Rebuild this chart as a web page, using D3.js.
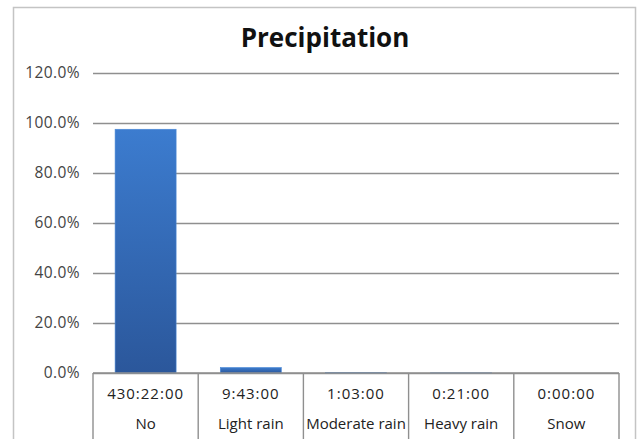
<!DOCTYPE html>
<html>
<head>
<meta charset="utf-8">
<script src="https://cdn.jsdelivr.net/npm/d3@7"></script>
<style>
  html, body { margin: 0; padding: 0; background: #fff; }
  svg { display: block; }
</style>
</head>
<body>
<svg id="chart" width="640" height="439"></svg>
<script>
// Share of time under each precipitation condition
const categories = ["No", "Light rain", "Moderate rain", "Heavy rain", "Snow"];
const durations = ["430:22:00", "9:43:00", "1:03:00", "0:21:00", "0:00:00"];
const shares = [0.975, 0.022, 0.0024, 0.0008, 0.0];
const yTicks = [0, 0.2, 0.4, 0.6, 0.8, 1.0, 1.2];

const svg = d3.select("#chart");
const W = 640, H = 439;
const plot = { left: 93, right: 619, top: 73, bottom: 373 };
const FONT = "'Open Sans', Lato, sans-serif";

// outer chart frame
svg.append("rect")
  .attr("x", 13.5).attr("y", 7.5)
  .attr("width", 622).attr("height", 445)
  .attr("fill", "#fff").attr("stroke", "#c4c4c4").attr("stroke-width", 1.5);

// title
svg.append("text")
  .attr("x", 325).attr("y", 47)
  .attr("text-anchor", "middle")
  .attr("font-family", FONT)
  .attr("font-weight", "bold")
  .attr("font-size", 26)
  .attr("fill", "#111")
  .text("Precipitation");

const x = d3.scaleBand()
  .domain(categories)
  .range([plot.left, plot.right])
  .paddingInner(0.42)
  .paddingOuter(0.21);

const y = d3.scaleLinear()
  .domain([0, 1.2])
  .range([plot.bottom, plot.top]);

// gridlines + percentage labels
const yAxis = d3.axisLeft(y)
  .tickValues(yTicks)
  .tickFormat(d3.format(".1%"))
  .tickSize(-(plot.right - plot.left))
  .tickPadding(13);

const gy = svg.append("g")
  .attr("transform", `translate(${plot.left},0)`)
  .call(yAxis);
gy.select(".domain").remove();
gy.selectAll(".tick line")
  .attr("stroke", "#8f8f8f").attr("stroke-width", 1.6);
gy.selectAll(".tick text")
  .attr("font-family", FONT)
  .attr("font-size", 15.5)
  .attr("letter-spacing", 0.4)
  .attr("fill", "#444");

// bar gradient
const defs = svg.append("defs");
const grad = defs.append("linearGradient")
  .attr("id", "barFill").attr("x1", 0).attr("y1", 0).attr("x2", 0).attr("y2", 1);
grad.append("stop").attr("offset", "0%").attr("stop-color", "#3c7ccf");
grad.append("stop").attr("offset", "100%").attr("stop-color", "#2b579b");

svg.append("g").selectAll("rect")
  .data(categories.map((c, i) => ({ c, v: shares[i] })))
  .join("rect")
  .attr("x", d => x(d.c))
  .attr("y", d => y(d.v))
  .attr("width", x.bandwidth())
  .attr("height", d => y(0) - y(d.v))
  .attr("fill", "url(#barFill)")
  .attr("stroke", "#4a88d6")
  .attr("stroke-width", 0.6);

// data table under the axis
const table = svg.append("g");
const step = x.step();
const cellLeft = c => x(c) - (step - x.bandwidth()) / 2;

table.append("line")
  .attr("x1", plot.left).attr("x2", plot.right)
  .attr("y1", plot.bottom).attr("y2", plot.bottom)
  .attr("stroke", "#8f8f8f").attr("stroke-width", 1.6);

const edges = categories.map(cellLeft).concat([plot.right]);
table.selectAll("line.v")
  .data(edges)
  .join("line")
  .attr("class", "v")
  .attr("x1", d => d).attr("x2", d => d)
  .attr("y1", plot.bottom).attr("y2", H)
  .attr("stroke", "#8f8f8f").attr("stroke-width", 1.4);

const cx = c => x(c) + x.bandwidth() / 2;

table.selectAll("text.dur")
  .data(categories.map((c, i) => ({ c, t: durations[i] })))
  .join("text")
  .attr("class", "dur")
  .attr("x", d => cx(d.c)).attr("y", 399)
  .attr("text-anchor", "middle")
  .attr("font-family", FONT)
  .attr("font-size", 15)
  .attr("letter-spacing", 1)
  .attr("fill", "#222")
  .text(d => d.t);

table.selectAll("text.cat")
  .data(categories)
  .join("text")
  .attr("class", "cat")
  .attr("x", d => cx(d)).attr("y", 429)
  .attr("text-anchor", "middle")
  .attr("font-family", FONT)
  .attr("font-size", 15)
  .attr("fill", "#222")
  .text(d => d);
</script>
</body>
</html>
